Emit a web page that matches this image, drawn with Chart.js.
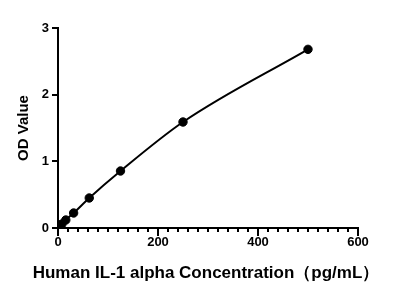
<!DOCTYPE html>
<html>
<head>
<meta charset="utf-8">
<script src="https://cdn.jsdelivr.net/npm/chart.js@4.4.1/dist/chart.umd.min.js"></script>
<style>
  html, body { margin: 0; padding: 0; background: #fff; }
  #wrap { width: 404px; height: 296px; }
</style>
</head>
<body>
<div id="wrap"><canvas id="cnv" width="404" height="296"></canvas></div>
<script>
// ---- data ----
const concentrations = [0, 7.8, 15.6, 31.25, 62.5, 125, 250, 500];   // pg/mL
const odValues       = [0.01, 0.06, 0.12, 0.225, 0.45, 0.855, 1.59, 2.68];
const xTickLabels    = [0, 200, 400, 600];
const yTickLabels    = [0, 1, 2, 3];
const xTitle = 'Human IL-1 alpha Concentration（pg/mL）';

const pts = concentrations.map((c, i) => ({ x: c, y: odValues[i] }));
const FONT = "'Liberation Sans', Arial, sans-serif";

// Chart.js squeezes the x title to the axis width, so draw it ourselves;
// also lengthen the major x ticks a bit (Prism style)
const xDecor = {
  id: 'xDecor',
  afterDraw(chart) {
    const { ctx, scales: { x } } = chart;
    ctx.save();
    ctx.strokeStyle = '#000';
    ctx.lineWidth = 2;
    xTickLabels.forEach(v => {
      const px = Math.round(x.getPixelForValue(v));
      ctx.beginPath();
      ctx.moveTo(px, x.top + 3);
      ctx.lineTo(px, x.top + 8);
      ctx.stroke();
    });
    ctx.fillStyle = '#000';
    ctx.font = `bold 17px ${FONT}`;
    ctx.textAlign = 'center';
    ctx.textBaseline = 'alphabetic';
    ctx.fillText(xTitle, (x.left + x.right) / 2 - 2, x.top + 50);
    ctx.restore();
  }
};

new Chart('cnv', {
  type: 'scatter',
  data: {
    datasets: [
      { // fitted curve
        type: 'line', data: pts, borderColor: '#000', borderWidth: 2,
        pointRadius: 0, cubicInterpolationMode: 'monotone', fill: false
      },
      { // measured points
        data: pts, backgroundColor: '#000', borderColor: '#000',
        pointRadius: 4.2, pointHoverRadius: 4.2
      }
    ]
  },
  options: {
    responsive: false,
    animation: false,
    layout: { padding: { top: 28, right: 46, left: 15, bottom: 14 } },
    plugins: { legend: { display: false }, tooltip: { enabled: false } },
    scales: {
      x: {
        type: 'linear', min: 0, max: 600,
        border: { color: '#000', width: 2 },
        grid: { drawOnChartArea: false, color: '#000', lineWidth: 2, tickLength: 4 },
        ticks: {
          stepSize: 20, autoSkip: false, maxRotation: 0, padding: 3,
          color: '#000', font: { family: FONT, size: 13, weight: 'bold' },
          callback: v => xTickLabels.includes(v) ? String(v) : ''
        },
        title: { display: false },
        afterFit: s => { s.height = 54; }
      },
      y: {
        type: 'linear', min: 0, max: 3,
        border: { color: '#000', width: 2 },
        grid: { drawOnChartArea: false, color: '#000', lineWidth: 2, tickLength: 6 },
        ticks: {
          stepSize: 1, padding: 3, color: '#000',
          font: { family: FONT, size: 13, weight: 'bold' },
          callback: v => yTickLabels.includes(v) ? String(v) : ''
        },
        title: {
          display: true, text: 'OD Value', color: '#000',
          font: { family: FONT, size: 15, weight: 'bold' },
          padding: 0
        },
        afterFit: s => { s.width = 43; }
      }
    }
  },
  plugins: [xDecor]
});
</script>
</body>
</html>
